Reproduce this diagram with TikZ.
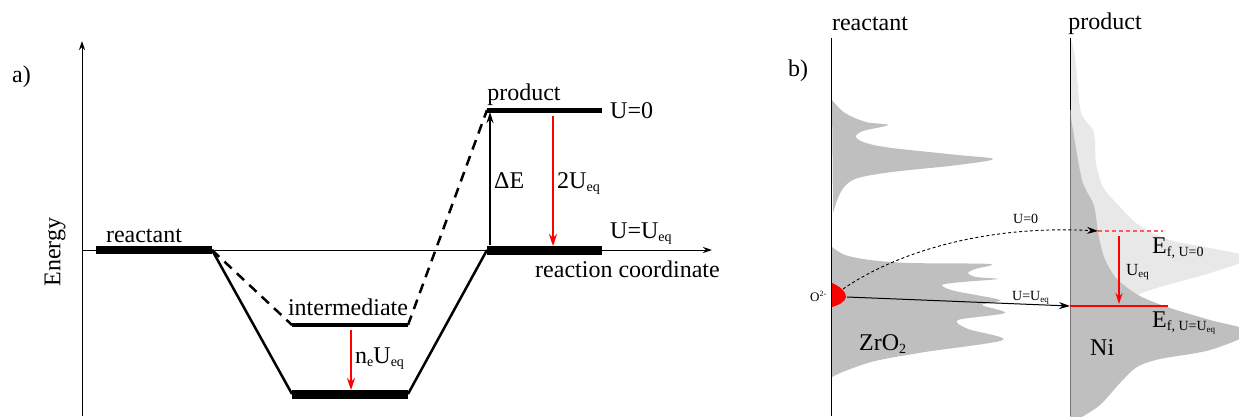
\documentclass[tikz,border=0pt]{standalone}
\usepackage{fontspec}
\setmainfont{Liberation Serif}
\usetikzlibrary{arrows.meta}
\newcommand{\lsub}[1]{\raisebox{-3.5pt}{\fontsize{14}{16}\selectfont #1}}
\newcommand{\msub}[1]{\raisebox{-2.5pt}{\fontsize{11}{13}\selectfont #1}}
\newcommand{\ssub}[1]{\raisebox{-2pt}{\fontsize{9}{10}\selectfont #1}}
\tikzset{
  lbl/.style={font=\fontsize{24}{28}\selectfont, inner sep=0pt, anchor=base west},
  lblc/.style={font=\fontsize{24}{28}\selectfont, inner sep=0pt, anchor=base},
  smalllbl/.style={font=\fontsize{14}{16}\selectfont, inner sep=0pt, anchor=base west},
  midlbl/.style={font=\fontsize{17}{19}\selectfont, inner sep=0pt, anchor=base west},
  axisline/.style={line width=1pt, -{Stealth[length=9pt,width=6pt]}},
  bar/.style={line width=#1, line cap=butt},
  conn/.style={line width=2.5pt},
  dconn/.style={line width=2.5pt, dash pattern=on 10pt off 7pt},
  blkarr/.style={line width=1.2pt, -{Stealth[length=11pt,width=7pt]}},
  redarr/.style={red, line width=1.8pt, -{Stealth[length=12pt,width=8pt]}},
  redarrs/.style={red, line width=1.3pt, -{Stealth[length=11pt,width=7pt]}},
  dosdark/.style={fill=gray!50},
  doslight/.style={fill=gray!18},
}
\begin{document}
\begin{tikzpicture}[x=1pt,y=-1pt]
\useasboundingbox (0,0) rectangle (1239,416);

% ================= panel a =================
\node[lbl] (la) at (12,82) {a)};
\node[font=\fontsize{24}{28}\selectfont, inner sep=0pt, rotate=90] (energy) at (55,252) {Energy};

\coordinate (yb) at (82,416);
\coordinate (yt) at (82,41);
\coordinate (xl) at (82,250);
\coordinate (xr) at (712,250);
\draw[axisline] (yb) -- (yt);
\draw[axisline] (xl) -- (xr);

% levels
\coordinate (r1) at (96,250);  \coordinate (r2) at (212,250);
\coordinate (b1) at (292,394); \coordinate (b2) at (408,394);
\coordinate (i1) at (292,325); \coordinate (i2) at (408,325);
\coordinate (p1) at (487,110); \coordinate (p2) at (602,110);
\coordinate (q1) at (487,250); \coordinate (q2) at (602,250);

\draw[conn] (r2) -- (b1);
\draw[conn] (b2) -- (q1);
\draw[dconn] (r2) -- (i1);
\draw[dconn] (i2) -- (p1);

\draw[bar=8pt] (r1) -- (r2);
\draw[bar=9pt] (b1) -- (b2);
\draw[bar=4pt] (i1) -- (i2);
\draw[bar=5pt] (p1) -- (p2);
\draw[bar=9pt] (q1) -- (q2);

% arrows
\coordinate (de1) at (490,245); \coordinate (de2) at (490,112);
\draw[blkarr] (de1) -- (de2);
\coordinate (u1) at (553,116); \coordinate (u2) at (553,246);
\draw[redarr] (u1) -- (u2);
\coordinate (n1) at (351,330); \coordinate (n2) at (351,390);
\draw[redarr] (n1) -- (n2);

% labels
\node[lblc] (treact) at (144,242) {reactant};
\node[lblc] (tinter) at (348,315) {intermediate};
\node[lbl] (tne) at (355,363) {n\lsub{e}U\lsub{eq}};
\node[lblc] (tprod) at (524,100) {product};
\node[lbl] (tu0) at (610,118) {U=0};
\node[lbl] (tde) at (494,188) {ΔE};
\node[lbl] (t2u) at (557,188) {2U\lsub{eq}};
\node[lbl] (tueq) at (610,238) {U=U\lsub{eq}};
\node[lbl] (trc) at (535,277) {reaction coordinate};

% ================= panel b =================
\begin{scope}
\clip (780,0) rectangle (1239,416);
% ZrO2 upper band
\fill[dosdark] plot[smooth, tension=0.55] coordinates {
 (832,100) (845,113) (866,122) (888,125) (863,131) (856,137) (866,143)
 (892,148) (958,155) (993,159) (958,165) (892,172) (858,178) (845,186)
 (838,198) (833,213)} -- cycle;
% ZrO2 lower band
\fill[dosdark] plot[smooth, tension=0.5] coordinates {
 (832,247) (845,255) (870,260) (910,263) (990,264) (975,269) (968,273)
 (976,277) (998,279) (962,282) (942,285) (955,291) (1000,300) (982,305)
 (1005,313) (958,320) (968,329) (1003,340) (925,352) (875,361) (845,371)
 (832,377)} -- cycle;
% Ni light (U=0)
\fill[doslight] plot[smooth, tension=0.5] coordinates {
 (1070,37) (1075,57) (1080,108) (1085,120) (1093,130) (1095,142)
 (1096,163) (1103,187) (1120,207) (1140,226) (1170,240) (1215,249)
 (1250,258) (1210,273) (1160,287) (1137,295) (1120,305)} -- (1070,320) -- cycle;
% Ni dark (U=Ueq)
\fill[dosdark] plot[smooth, tension=0.5] coordinates {
 (1070,110) (1073,130) (1082,180) (1093,203) (1096,217) (1098,232)
 (1104,257) (1117,279) (1140,296) (1170,308) (1210,320) (1250,332)
 (1210,350) (1160,359) (1137,367) (1120,383) (1100,405) (1080,418)} -- (1070,418) -- cycle;
\end{scope}

% axes
\coordinate (la1) at (831,38);  \coordinate (la2) at (831,416);
\coordinate (ra1) at (1070,38); \coordinate (ra2) at (1070,110); \coordinate (ra3) at (1070,416);
\draw[line width=1pt] (la1) -- (la2);
\draw[line width=1pt] (ra1) -- (ra2);
\draw[line width=1pt, black!55] (ra2) -- (ra3);

% O2- blob
\coordinate (o1) at (832,283);
\coordinate (otip) at (846,297);
\coordinate (o2) at (832,307);
\fill[red] (o1) .. controls (841,287) and (846,292) .. (otip)
  .. controls (845,302) and (839,305) .. (o2) -- cycle;

% Fermi levels
\coordinate (ef0a) at (1098,231); \coordinate (ef0b) at (1163,231);
\draw[red!65, line width=1.3pt, dash pattern=on 4pt off 3pt] (ef0a) -- (ef0b);
\coordinate (ef1a) at (1070,306); \coordinate (ef1b) at (1168,306);
\draw[red, line width=1.3pt] (ef1a) -- (ef1b);
\coordinate (ue1) at (1119,236); \coordinate (ue2) at (1119,304);
\draw[redarrs] (ue1) -- (ue2);

% transfer arrows
\coordinate (os) at (843,289);
\draw[line width=0.9pt, dash pattern=on 3pt off 2.5pt, -{Stealth[length=11pt,width=7pt]}]
  (os) .. controls (900,250) and (990,225) .. (ef0a);
\coordinate (os2) at (847,297);
\draw[line width=1pt, -{Stealth[length=11pt,width=7pt]}] (os2) -- (ef1a);

% labels
\node[lbl] (lb) at (788,76) {b)};
\node[lblc] (treact2) at (870,30) {reactant};
\node[lblc] (tprod2) at (1105,29) {product};
\node[lbl] (tzr) at (859,350) {ZrO\lsub{2}};
\node[lbl] (tni) at (1090,355) {Ni};
\node[lbl] (tef0) at (1152,253) {E\lsub{f, U=0}};
\node[lbl] (tef1) at (1152,327) {E\lsub{f, U=U\ssub{eq}}};
\node[midlbl] (tueq2) at (1126,275) {U\msub{eq}};
\node[smalllbl] (tu0b) at (1013,223) {U=0};
\node[smalllbl] (tuqb) at (1012,300) {U=U\ssub{eq}};
\node[font=\fontsize{13}{15}\selectfont, inner sep=0pt, anchor=base west] (tox) at (810,301) {O\raisebox{5pt}{\fontsize{8}{9}\selectfont 2-}};
\end{tikzpicture}
\end{document}
